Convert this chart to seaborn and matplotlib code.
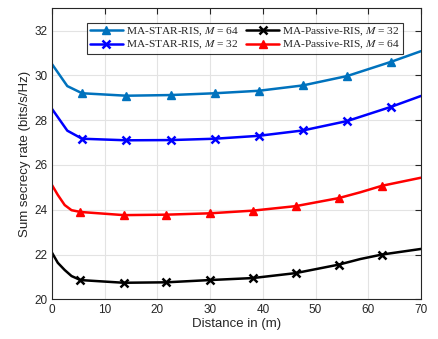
import matplotlib
matplotlib.use("Agg")
import matplotlib.pyplot as plt
import seaborn as sns
import pandas as pd

# Curve samples (x in m) and values
x_star = [0, 2.9, 5.7, 14.1, 22.5, 30.9, 39.2, 47.6, 56.0, 64.4, 70]
star64 = [30.5, 29.52, 29.2, 29.09, 29.12, 29.2, 29.31, 29.55, 29.97, 30.61, 31.08]
star32 = [28.5, 27.53, 27.17, 27.1, 27.11, 27.17, 27.3, 27.54, 27.96, 28.6, 29.08]

x_pas = [0, 1.1, 2.4, 3.7, 5.4, 13.6, 21.7, 29.9, 38.1, 46.2, 54.4, 58.5, 62.6, 70]
pas64 = [25.1, 24.66, 24.21, 23.98, 23.9, 23.76, 23.78, 23.84, 23.96, 24.16, 24.52, 24.78, 25.07, 25.43]
pas32 = [22.08, 21.63, 21.31, 21.04, 20.86, 20.74, 20.76, 20.86, 20.95, 21.17, 21.55, 21.8, 22.0, 22.25]

mark_star = list(range(2, 10))
mark_pas64 = [4, 5, 6, 7, 8, 9, 10, 12]
mark_pas32 = [4, 5, 6, 7, 8, 9, 10, 12]

labels = ["MA-STAR-RIS, $M$ = 64", "MA-STAR-RIS, $M$ = 32",
          "MA-Passive-RIS, $M$ = 32", "MA-Passive-RIS, $M$ = 64"]

xticks = list(range(0, 71, 10))
yticks = list(range(20, 33, 2))

sns.set_style("white")
plt.rcParams["font.family"] = ["Liberation Sans", "DejaVu Sans"]
plt.rcParams["mathtext.fontset"] = "stix"

fig = plt.figure(figsize=(4.39, 3.39), dpi=100)
ax = fig.add_axes([0.1185, 0.117, 0.8405, 0.859])

series = [
    (x_star, star64, labels[0], "#0072BD", "^", mark_star),
    (x_star, star32, labels[1], "#0000FF", "x", mark_star),
    (x_pas, pas32, labels[2], "#000000", "x", mark_pas32),
    (x_pas, pas64, labels[3], "#FF0000", "^", mark_pas64),
]
for xs, ys, lab, col, mk, me in series:
    df = pd.DataFrame({"x": xs, "y": ys})
    sns.lineplot(data=df, x="x", y="y", ax=ax, color=col, label=lab,
                 marker=mk, markevery=me, markersize=6 if mk == "x" else 5.5,
                 markeredgewidth=1.8 if mk == "x" else 1, linewidth=1.8,
                 markeredgecolor=col, markerfacecolor=col)

ax.set_xlim(0, 70)
ax.set_ylim(20, 33)
ax.set_xticks(xticks)
ax.set_yticks(yticks)
ax.grid(True, color="#e3e3e3", linewidth=0.8)
ax.tick_params(direction="in", length=4, width=0.8, colors="#262626",
               labelsize=8.5, top=True, right=True, pad=3)
for s in ax.spines.values():
    s.set_color("#262626")
    s.set_linewidth(0.8)
ax.set_xlabel("Distance in (m)", fontsize=9.5, color="#262626", labelpad=2)
ax.set_ylabel("Sum secrecy rate (bits/s/Hz)", fontsize=9.5, color="#262626", labelpad=3)

leg = ax.legend(ncol=2, loc="upper left", bbox_to_anchor=(0.095, 0.95),
                prop={"family": "Liberation Serif", "size": 8.2},
                frameon=True, fancybox=False, edgecolor="black",
                handlelength=2.9, columnspacing=0.6, handletextpad=0.3,
                borderpad=0.22, labelspacing=0.1, borderaxespad=0)
leg.get_frame().set_linewidth(0.8)

fig.savefig("out.png", dpi=100)
